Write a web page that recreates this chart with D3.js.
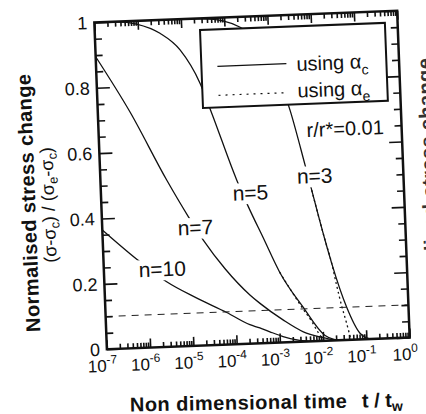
<!DOCTYPE html>
<html>
<head>
<meta charset="utf-8">
<script src="https://cdn.jsdelivr.net/npm/d3@7"></script>
<style>
body { margin: 0; background: #fff; }
text { font-family: "Liberation Sans", Arial, Helvetica, sans-serif; fill: #111; }
</style>
</head>
<body>
<div id="chart"></div>
<script>
// values
var decades = [1e-7, 1e-6, 1e-5, 1e-4, 1e-3, 1e-2, 1e-1, 1];
var decadeExp = ["-7", "-6", "-5", "-4", "-3", "-2", "-1", "0"];
var yTicks = [0, 0.2, 0.4, 0.6, 0.8, 1];
var yTickLabels = ["0", "0.2", "0.4", "0.6", "0.8", "1"];
var refLevel = 0.1;

// n = 10, using alpha_c
var n10T = [1e-7, 5.6e-7, 2.75e-6, 1.26e-5, 6.3e-5, 2.1e-4, 3.55e-4, 6.0e-4, 1.2e-3, 2.5e-3, 5.0e-3];
var n10Y = [0.365, 0.274, 0.199, 0.147, 0.098, 0.058, 0.047, 0.034, 0.018, 0.006, 0];
// n = 7
var n7T = [1e-7, 5.55e-7, 3.39e-6, 1e-5, 2.1e-5, 6.3e-5, 2.24e-4, 3.76e-4, 1.26e-3, 3.55e-3, 1e-2, 2e-2];
var n7Y = [0.895, 0.722, 0.51, 0.395, 0.322, 0.232, 0.149, 0.122, 0.068, 0.03, 0.01, 0];
// n = 5
var n5T = [1e-7, 3.16e-7, 9.4e-7, 3.2e-6, 9.0e-6, 2.43e-5, 4.26e-5, 1.4e-4, 2.46e-4, 5.1e-4, 1.14e-3, 3.66e-3, 1.1e-2, 1.78e-2, 2.5e-2];
var n5Y = [1, 0.999, 0.99, 0.959, 0.906, 0.802, 0.709, 0.502, 0.419, 0.322, 0.215, 0.106, 0.017, 0.003, 0];
// n = 3
var n3T = [1e-7, 1e-5, 3.16e-5, 9.3e-5, 2.24e-4, 6.3e-4, 1.26e-3, 2.75e-3, 5.46e-3, 7.4e-3, 1.355e-2, 1.845e-2, 3.74e-2, 7.2e-2, 0.1, 0.126];
var n3Y = [1, 1, 0.998, 0.99, 0.969, 0.92, 0.85, 0.709, 0.54, 0.462, 0.308, 0.236, 0.10, 0.019, 0.004, 0];
// using alpha_e (only where it departs from alpha_c)
var n5eT = [1.14e-3, 3.66e-3, 5.7e-3, 7.9e-3, 1.05e-2];
var n5eY = [0.215, 0.1, 0.06, 0.025, 0];
var n3eT = [7.4e-3, 1.355e-2, 1.845e-2, 2.24e-2, 2.87e-2, 3.55e-2, 4.07e-2, 4.37e-2];
var n3eY = [0.462, 0.308, 0.236, 0.175, 0.105, 0.055, 0.02, 0];

// curve labels, placed in data coordinates
var labelText = ["n=10", "n=7", "n=5", "n=3"];
var labelT = [2.24e-6, 1.42e-5, 2.84e-4, 8.93e-3];
var labelY = [0.216, 0.339, 0.439, 0.483];

var W = 426, H = 414;
var margin = { left: 100.5, top: 16.5 };
var width = 303, height = 327;

var svg = d3.select("#chart").append("svg")
    .attr("width", W)
    .attr("height", H);

// the scan is tilted a little, so the whole figure is turned
var g = svg.append("g")
    .attr("transform", "rotate(-2.2,251.75,179.75) translate(" + margin.left + "," + margin.top + ")");

var x = d3.scaleLog().domain([1e-7, 1]).range([0, width]);
var y = d3.scaleLinear().domain([0, 1]).range([height, 0]);

g.append("clipPath").attr("id", "clip")
    .append("rect").attr("width", width).attr("height", height);

var line = d3.line()
    .x(function(d) { return x(d[0]); })
    .y(function(d) { return y(d[1]); })
    .curve(d3.curveMonotoneX);

var curves = g.append("g").attr("clip-path", "url(#clip)");

[[n10T, n10Y], [n7T, n7Y], [n5T, n5Y], [n3T, n3Y]].forEach(function(s) {
    curves.append("path")
        .datum(d3.zip(s[0], s[1]))
        .attr("d", line)
        .attr("fill", "none")
        .attr("stroke", "#111")
        .attr("stroke-width", 1.3);
});

[[n5eT, n5eY], [n3eT, n3eY]].forEach(function(s) {
    curves.append("path")
        .datum(d3.zip(s[0], s[1]))
        .attr("d", line)
        .attr("fill", "none")
        .attr("stroke", "#111")
        .attr("stroke-width", 1.3)
        .attr("stroke-dasharray", "2,3");
});

// dashed reference level
curves.append("line")
    .attr("x1", 0).attr("x2", width)
    .attr("y1", y(refLevel)).attr("y2", y(refLevel))
    .attr("stroke", "#222")
    .attr("stroke-width", 1)
    .attr("stroke-dasharray", "7,6");

// curve labels with a white patch that breaks the line
labelText.forEach(function(txt, i) {
    var lg = g.append("g");
    var rect = lg.append("rect").attr("fill", "#fff");
    var t = lg.append("text")
        .attr("x", x(labelT[i]))
        .attr("y", y(labelY[i]))
        .attr("text-anchor", "middle")
        .attr("font-size", 21)
        .text(txt);
    var bb = t.node().getBBox();
    rect.attr("x", bb.x - 3).attr("y", bb.y + 2)
        .attr("width", bb.width + 6).attr("height", bb.height - 2);
});

g.append("text")
    .attr("x", x(0.0498))
    .attr("y", y(0.625))
    .attr("text-anchor", "middle")
    .attr("font-size", 20)
    .text("r/r*=0.01");

// legend
var leg = g.append("g").attr("transform", "translate(105.3,11.6)");
leg.append("rect")
    .attr("width", 185).attr("height", 78)
    .attr("fill", "#fff")
    .attr("stroke", "#111")
    .attr("stroke-width", 2);
leg.append("line")
    .attr("x1", 16).attr("x2", 85).attr("y1", 37).attr("y2", 37)
    .attr("stroke", "#111").attr("stroke-width", 1.2);
leg.append("line")
    .attr("x1", 16).attr("x2", 85).attr("y1", 66).attr("y2", 66)
    .attr("stroke", "#111").attr("stroke-width", 1.2)
    .attr("stroke-dasharray", "2,5");
[["c", 44.6], ["e", 71.3]].forEach(function(d) {
    var t = leg.append("text")
        .attr("x", 95).attr("y", d[1])
        .attr("font-size", 20);
    t.append("tspan").text("using \u03b1");
    t.append("tspan").attr("dy", 6).attr("font-size", 14).text(d[0]);
});

// frame
g.append("rect")
    .attr("width", width).attr("height", height)
    .attr("fill", "none")
    .attr("stroke", "#111")
    .attr("stroke-width", 2.5);

// log ticks, bottom and top, pointing inwards
var allX = x.ticks();
var majorX = allX.filter(function(d) { return Math.abs(Math.log10(d) - Math.round(Math.log10(d))) < 1e-6; });
var minorX = allX.filter(function(d) { return majorX.indexOf(d) < 0; });

function tickLines(sel) {
    sel.select(".domain").remove();
    sel.selectAll("line").attr("stroke", "#111").attr("stroke-width", 1.6);
}

g.append("g").attr("transform", "translate(0," + height + ")")
    .call(d3.axisBottom(x).tickValues(minorX).tickSize(-5).tickFormat("")).call(tickLines);
g.append("g").attr("transform", "translate(0," + height + ")")
    .call(d3.axisBottom(x).tickValues(majorX).tickSize(-9).tickFormat("")).call(tickLines);
g.append("g")
    .call(d3.axisTop(x).tickValues(minorX).tickSize(-5).tickFormat("")).call(tickLines);
g.append("g")
    .call(d3.axisTop(x).tickValues(majorX).tickSize(-9).tickFormat("")).call(tickLines);

// linear ticks left and right
var allY = d3.range(0, 1.0001, 0.05);
var majorY = allY.filter(function(d) { return Math.abs(d / 0.2 - Math.round(d / 0.2)) < 1e-6; });
var minorY = allY.filter(function(d) { return majorY.indexOf(d) < 0; });

g.append("g").call(d3.axisLeft(y).tickValues(minorY).tickSize(-7).tickFormat("")).call(tickLines);
g.append("g").call(d3.axisLeft(y).tickValues(majorY).tickSize(-13).tickFormat("")).call(tickLines);
g.append("g").attr("transform", "translate(" + width + ",0)")
    .call(d3.axisRight(y).tickValues(minorY).tickSize(-7).tickFormat("")).call(tickLines);
g.append("g").attr("transform", "translate(" + width + ",0)")
    .call(d3.axisRight(y).tickValues(majorY).tickSize(-13).tickFormat("")).call(tickLines);

// tick labels
g.selectAll(".ylab")
    .data(yTicks)
    .enter().append("text")
    .attr("class", "ylab")
    .attr("x", -7)
    .attr("y", function(d) { return y(d); })
    .attr("dy", "0.36em")
    .attr("text-anchor", "end")
    .attr("font-size", 18)
    .text(function(d, i) { return yTickLabels[i]; });

decades.forEach(function(d, i) {
    var t = g.append("text")
        .attr("x", x(d) - 5)
        .attr("y", height + 22.5)
        .attr("text-anchor", "middle")
        .attr("font-size", 17);
    t.append("tspan").text("10");
    t.append("tspan").attr("dy", -8).attr("font-size", 12).text(decadeExp[i]);
});

// axis titles
g.append("text")
    .attr("transform", "translate(-73.2,177.9) rotate(-90)")
    .attr("text-anchor", "middle")
    .attr("dy", "0.36em")
    .attr("font-size", 20)
    .attr("font-weight", "bold")
    .attr("textLength", 258)
    .attr("lengthAdjust", "spacing")
    .text("Normalised stress change");

var yt2 = g.append("text")
    .attr("transform", "translate(-53.3,180.7) rotate(-90)")
    .attr("text-anchor", "middle")
    .attr("dy", "0.36em")
    .attr("font-size", 18);
yt2.append("tspan").text("(\u03c3-\u03c3");
yt2.append("tspan").attr("dy", 4).attr("font-size", 13).text("c");
yt2.append("tspan").attr("dy", -4).text(") / (\u03c3");
yt2.append("tspan").attr("dy", 4).attr("font-size", 13).text("e");
yt2.append("tspan").attr("dy", -4).text("-\u03c3");
yt2.append("tspan").attr("dy", 4).attr("font-size", 13).text("c");
yt2.append("tspan").attr("dy", -4).text(")");

var xt = svg.append("g").attr("transform", "rotate(-1,130,412)");
xt.append("text")
    .attr("x", 130).attr("y", 411.5)
    .attr("font-size", 20)
    .attr("font-weight", "bold")
    .attr("textLength", 217)
    .attr("lengthAdjust", "spacing")
    .text("Non dimensional time");
var xt2 = xt.append("text")
    .attr("x", 362).attr("y", 411.5)
    .attr("font-size", 20)
    .attr("font-weight", "bold");
xt2.append("tspan").text("t / t");
xt2.append("tspan").attr("dy", 4).attr("font-size", 14).text("w");

// edge of the neighbouring figure's axis title, tilted like the scan
svg.append("text")
    .attr("transform", "translate(431,58) rotate(-92.2)")
    .attr("text-anchor", "end")
    .attr("font-size", 20)
    .attr("font-weight", "bold")
    .style("fill", "#333")
    .attr("textLength", 258)
    .attr("lengthAdjust", "spacing")
    .text("Normalised stress change");
</script>
</body>
</html>
